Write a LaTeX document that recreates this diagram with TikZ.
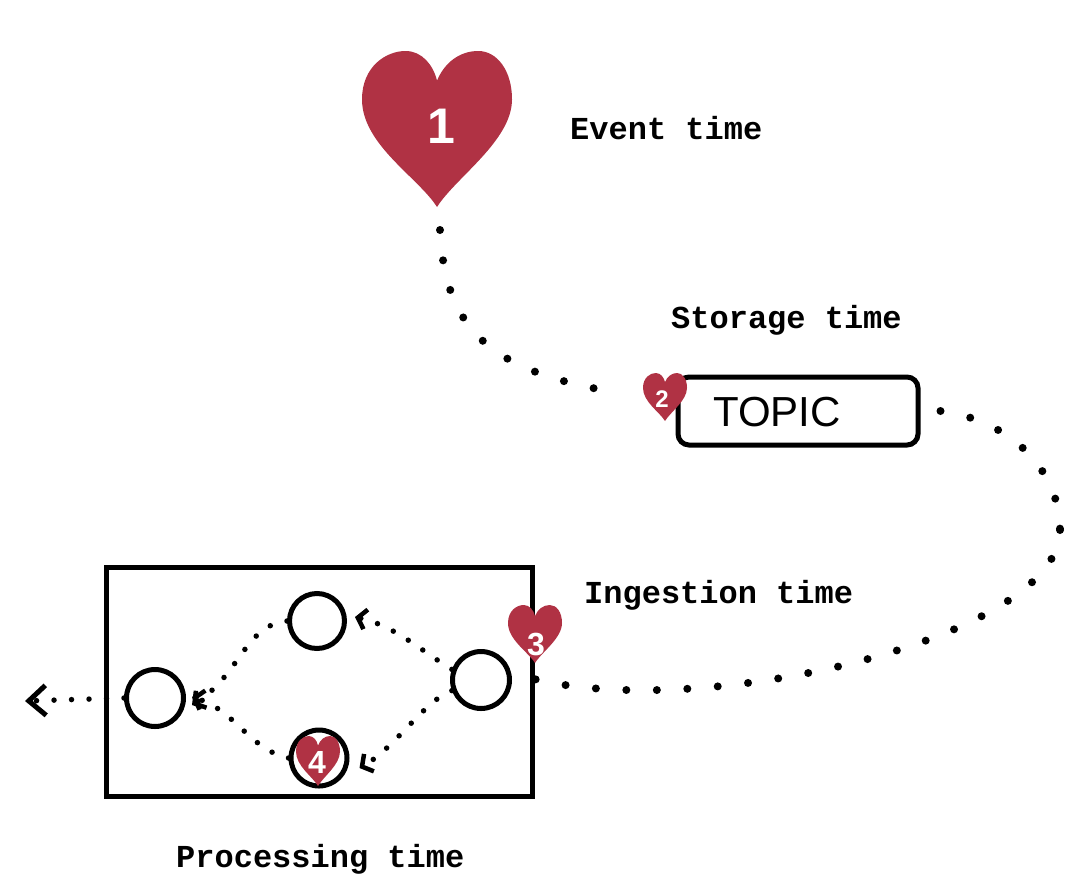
\documentclass[tikz,border=0pt]{standalone}
\usepackage{fontspec}
\setmainfont{Liberation Sans}
\setmonofont{Liberation Mono}
\usetikzlibrary{arrows.meta}
\definecolor{heartred}{RGB}{176,50,68}
\tikzset{
  x=1pt, y=-1pt,
  stage/.style={circle, draw, line width=5pt, inner sep=0pt, minimum size=#1},
  timelabel/.style={anchor=west, inner sep=0pt, font=\ttfamily\bfseries\fontsize{32}{36}\selectfont},
  heartnum/.style={text=white, inner sep=0pt, font=\bfseries\fontsize{#1}{#1}\selectfont},
  bigdots/.style={line width=8pt, line cap=round, dash pattern=on 0pt off 30.5pt},
  smalldots/.style={line width=5.5pt, line cap=round, dash pattern=on 0pt off 17.5pt},
  barb/.style={-{Straight Barb[length=8pt,width=20pt,line width=4.5pt]}},
  bigbarb/.style={-{Straight Barb[length=17pt,width=30pt,line width=5pt]}},
  pics/heart/.style n args={2}{code={
    \fill[heartred, x=#1pt, y=-#2pt] (0,1) .. controls (-.25,.62) and (-1,.2) .. (-1,-.38)
      .. controls (-1,-.8) and (-.68,-1) .. (-.42,-1)
      .. controls (-.2,-1) and (-.05,-.82) .. (0,-.62)
      .. controls (.1,-.85) and (.3,-1) .. (.55,-1)
      .. controls (.8,-1) and (1,-.75) .. (1,-.38)
      .. controls (1,.15) and (.25,.62) .. (0,1) -- cycle;
  }}
}
\begin{document}
\begin{tikzpicture}
    \useasboundingbox (0,0) rectangle (1078,894);
    \node[draw, line width=5pt, minimum width=426pt, minimum height=229pt, inner sep=0pt] (engine) at (319,681.5) {};
    \node[stage=57pt] (source) at (481,680) {};
    \node[stage=55pt] (upper) at (317,621) {};
    \node[stage=56pt] (lower) at (319,758) {};
    \node[stage=57pt] (sink) at (155,698) {};
    \node[draw, line width=5pt, rounded corners=11pt, minimum width=240pt, minimum height=68pt, inner sep=0pt] (topic) at (798,411) {};
    \node[font=\fontsize{42}{42}\selectfont, inner sep=0pt] (topictext) at (777,412) {TOPIC};

    \coordinate (start) at (440,230);
    \coordinate (bend) at (1060,530);
    \coordinate (out) at (25,701);
    \draw[bigdots] (start) .. controls (445,330) and (490,372) .. (620,393);
    \draw[bigdots] ([xshift=20pt]topic.east) .. controls (1010,420) and (1060,470) .. (bend);
    \draw[bigdots] (bend) .. controls (1060,640) and (690,725) .. ([xshift=11pt,yshift=4pt]source.east);
    \draw[smalldots, barb] (source.160) .. controls (420,650) and (395,626) .. ([xshift=8pt,yshift=4pt]upper.east);
    \draw[smalldots, barb] (source.200) .. controls (425,700) and (395,748) .. ([xshift=10pt,yshift=-10pt]lower.east);
    \draw[smalldots, barb] (upper.west) .. controls (245,625) and (240,675) .. ([xshift=6pt,yshift=-7pt]sink.east);
    \draw[smalldots, barb] (lower.west) .. controls (250,750) and (235,710) .. ([xshift=6pt,yshift=1pt]sink.east);
    \draw[smalldots, bigbarb] (sink.west) -- (out);

    \pic at (437,129) {heart={75}{78}};
    \node[heartnum=50] (one) at (441,126) {1};
    \pic at (665,397) {heart={22}{24}};
    \node[heartnum=24] (two) at (662,399) {2};
    \pic at (535,634) {heart={27}{29}};
    \node[heartnum=32] (three) at (536,644) {3};
    \pic at (318,761) {heart={22}{25}};
    \node[heartnum=32] (four) at (317,762) {4};

    \node[timelabel] (eventtime) at (570,128) {Event time};
    \node[timelabel] (storagetime) at (671,320) {Storage time};
    \node[timelabel] (ingesttime) at (584,595) {Ingestion time};
    \node[timelabel] (processtime) at (176,859) {Processing time};
\end{tikzpicture}
\end{document}
